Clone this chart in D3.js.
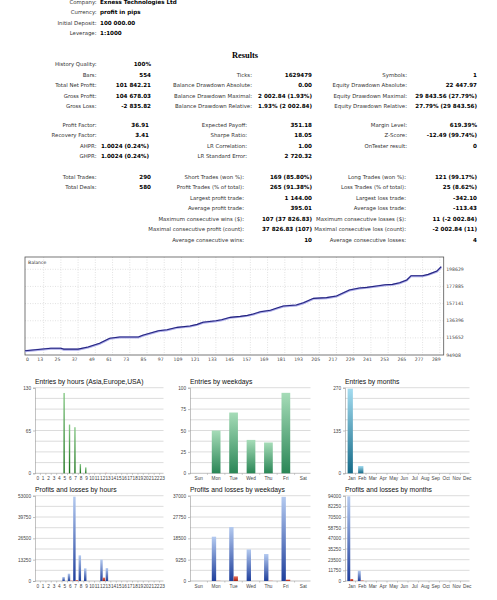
<!DOCTYPE html>
<html>
<head>
<meta charset="utf-8">
<script src="https://cdn.jsdelivr.net/npm/d3@7"></script>
<style>
  body { margin: 0; background: #fff; }
  svg { display: block; font-family: "DejaVu Sans", sans-serif; }
  .lbl { fill: #333; font-size: 5.4px; }
  .val { fill: #000; font-size: 5.6px; font-weight: bold; }
  .tick text { fill: #444; }
</style>
</head>
<body>
<svg id="report" width="497" height="600"></svg>
<script>
// ---- header / results text ----
const headerRows = [
  ['Company:', 'Exness Technologies Ltd'],
  ['Currency:', 'profit in pips'],
  ['Initial Deposit:', '100 000.00'],
  ['Leverage:', '1:1000']
];

// results, three blocks of three label/value columns
const block1 = [
  [['History Quality:', '100%'], null, null],
  [['Bars:', '554'], ['Ticks:', '1629479'], ['Symbols:', '1']],
  [['Total Net Profit:', '101 842.21'], ['Balance Drawdown Absolute:', '0.00'], ['Equity Drawdown Absolute:', '22 447.97']],
  [['Gross Profit:', '104 678.03'], ['Balance Drawdown Maximal:', '2 002.84 (1.93%)'], ['Equity Drawdown Maximal:', '29 843.56 (27.79%)']],
  [['Gross Loss:', '-2 835.82'], ['Balance Drawdown Relative:', '1.93% (2 002.84)'], ['Equity Drawdown Relative:', '27.79% (29 843.56)']]
];
const block2 = [
  [['Profit Factor:', '36.91'], ['Expected Payoff:', '351.18'], ['Margin Level:', '619.39%']],
  [['Recovery Factor:', '3.41'], ['Sharpe Ratio:', '18.05'], ['Z-Score:', '-12.49 (99.74%)']],
  [['AHPR:', '1.0024 (0.24%)'], ['LR Correlation:', '1.00'], ['OnTester result:', '0']],
  [['GHPR:', '1.0024 (0.24%)'], ['LR Standard Error:', '2 720.32'], null]
];
const block3 = [
  [['Total Trades:', '290'], ['Short Trades (won %):', '169 (85.80%)'], ['Long Trades (won %):', '121 (99.17%)']],
  [['Total Deals:', '580'], ['Profit Trades (% of total):', '265 (91.38%)'], ['Loss Trades (% of total):', '25 (8.62%)']],
  [null, ['Largest profit trade:', '1 144.00'], ['Largest loss trade:', '-342.10']],
  [null, ['Average profit trade:', '395.01'], ['Average loss trade:', '-113.43']],
  [null, ['Maximum consecutive wins ($):', '107 (37 826.83)'], ['Maximum consecutive losses ($):', '11 (-2 002.84)']],
  [null, ['Maximal consecutive profit (count):', '37 826.83 (107)'], ['Maximal consecutive loss (count):', '-2 002.84 (11)']],
  [null, ['Average consecutive wins:', '10'], ['Average consecutive losses:', '4']]
];

// ---- balance curve: [trade #, balance] ----
const balanceTrades = [0, 18, 25, 27, 37, 44, 52, 59, 66, 79, 82, 93, 99, 106, 115, 120, 124, 133, 137, 143, 150,
  155, 159, 164, 171, 175, 180, 189, 194, 201, 210, 217, 226, 233, 238, 245, 251, 256, 261, 266, 269, 277, 281, 287, 290];
const balanceValues = [100000, 103000, 103000, 102000, 102000, 104600, 109000, 115100, 116700, 116700, 118700, 124300,
  125500, 128400, 130000, 132000, 134500, 136400, 137600, 140500, 141700, 142900, 144500, 147300, 149000, 151400,
  154200, 155400, 158200, 163500, 164300, 166300, 173600, 176000, 176800, 178400, 179900, 180400, 182400, 185700,
  190900, 190900, 192500, 196500, 201842];
const balanceYTicks = [94908, 115652, 136396, 157141, 177885, 198629];
const balanceXTicks = [0, 13, 25, 37, 49, 61, 73, 85, 97, 109, 121, 133, 145, 157, 169, 181, 193, 205, 217, 229, 241, 253, 265, 277, 289];

// ---- histograms ----
const hours = d3.range(24).map(String);
const weekdays = ['Sun', 'Mon', 'Tue', 'Wed', 'Thu', 'Fri', 'Sat'];
const months = ['Jan', 'Feb', 'Mar', 'Apr', 'May', 'Jun', 'Jul', 'Aug', 'Sep', 'Oct', 'Nov', 'Dec'];

const entriesHours = [0, 0, 0, 0, 0, 122, 74, 70, 14, 9, 0, 0, 0, 0, 0, 0, 0, 0, 0, 0, 0, 0, 0, 0];
const entriesHoursOther = [0, 0, 0, 0, 0, 0, 0, 0, 0, 0, 0, 0, 0, 1, 0, 0, 0, 0, 0, 0, 0, 0, 0, 0];
const entriesWeekdays = [0, 50, 71, 39, 36, 94, 0];
const entriesMonths = [267, 23, 0, 0, 0, 0, 0, 0, 0, 0, 0, 0];

const profitHours = [0, 0, 0, 0, 0, 2500, 4560, 52400, 15940, 7870, 0, 0, 13300, 8000, 0, 0, 0, 0, 0, 0, 0, 0, 0, 0];
const lossHours = [0, 0, 0, 0, 0, 0, 236, 500, 0, 0, 0, 0, 2100, 0, 0, 0, 0, 0, 0, 0, 0, 0, 0, 0];
const profitWeekdays = [0, 19220, 23410, 13700, 11700, 36500, 0];
const lossWeekdays = [0, 100, 2020, 0, 116, 600, 0];
const profitMonths = [93300, 11378, 0, 0, 0, 0, 0, 0, 0, 0, 0, 0];
const lossMonths = [2236, 600, 0, 0, 0, 0, 0, 0, 0, 0, 0, 0];

const ticksEntriesHours = [0, 65, 130];
const ticksEntriesWeekdays = [0, 25, 50, 75, 100];
const ticksEntriesMonths = [0, 135, 270];
const ticksProfitHours = [0, 13250, 26500, 39750, 53000];
const ticksProfitWeekdays = [0, 9250, 18500, 27750, 37000];
const ticksProfitMonths = [0, 11750, 23500, 35250, 47000, 58750, 70500, 82250, 94000];

const svg = d3.select('#report');

// gradients for the bars
const defs = svg.append('defs');
function gradient(id, top, bottom) {
  const lg = defs.append('linearGradient').attr('id', id)
    .attr('x1', 0).attr('y1', 0).attr('x2', 0).attr('y2', 1);
  lg.append('stop').attr('offset', '0%').attr('stop-color', top);
  lg.append('stop').attr('offset', '100%').attr('stop-color', bottom);
}
gradient('gGreen', '#84c884', '#157015');
gradient('gSea', '#a6dcb8', '#2a8656');
gradient('gTeal', '#a4dcf0', '#146a88');
gradient('gBlue', '#b4caf0', '#1f3f9c');
gradient('gRed', '#e8705c', '#a82010');

// ---- header lines ----
const head = svg.append('g');
headerRows.forEach((r, i) => {
  const y = [4.4, 14, 24.5, 35][i];
  head.append('text').attr('class', 'lbl').attr('x', 96.5).attr('y', y).attr('text-anchor', 'end').text(r[0]);
  head.append('text').attr('class', 'val').attr('x', 100).attr('y', y).text(r[1]);
});

svg.append('text')
    .attr('x', 245).attr('y', 58)
    .attr('text-anchor', 'middle')
    .style('font-family', '"Liberation Serif", serif')
    .style('font-weight', 'bold')
    .style('font-size', '8.4px')
    .text('Results');

// draw a block of label/value pairs
function drawBlock(rows, y0, labelRight, valueRight) {
  const g = svg.append('g');
  rows.forEach((row, i) => {
    const y = y0 + i * 10.5 + 1.9;
    row.forEach((cell, c) => {
      if (!cell) return;
      g.append('text').attr('class', 'lbl')
          .attr('x', labelRight[c]).attr('y', y)
          .attr('text-anchor', 'end').text(cell[0]);
      g.append('text').attr('class', 'val')
          .attr('x', valueRight[c]).attr('y', y)
          .attr('text-anchor', 'end').text(cell[1]);
    });
  });
}
drawBlock(block1, 64.5, [96.5, 252, 407], [151, 312, 477]);
drawBlock(block2, 125, [96.5, 247, 407], [149, 312, 477]);
drawBlock(block3, 177, [96.5, 244, 406], [151, 312, 477]);

// ---- balance graph ----
const bal = { left: 25, right: 443.7, top: 257, bottom: 355 };
const bx = d3.scaleLinear().domain([0, 291.7]).range([bal.left, bal.right]);
const by = d3.scaleLinear().domain([94908, 213519]).range([bal.bottom, bal.top]);
const bg = svg.append('g');

bg.append('g')
  .selectAll('line')
  .data(balanceXTicks.slice(1))
  .join('line')
    .attr('x1', d => bx(d)).attr('x2', d => bx(d))
    .attr('y1', bal.top).attr('y2', bal.bottom)
    .attr('stroke', '#cfcfcf').attr('stroke-width', 0.6)
    .attr('stroke-dasharray', '1,1.5');

bg.append('g')
  .selectAll('line')
  .data(balanceYTicks.slice(1))
  .join('line')
    .attr('x1', bal.left).attr('x2', bal.right)
    .attr('y1', d => by(d)).attr('y2', d => by(d))
    .attr('stroke', '#cfcfcf').attr('stroke-width', 0.6)
    .attr('stroke-dasharray', '1,1.5');

bg.append('rect')
    .attr('x', bal.left).attr('y', bal.top)
    .attr('width', bal.right - bal.left).attr('height', bal.bottom - bal.top)
    .attr('fill', 'none').attr('stroke', '#555').attr('stroke-width', 0.8);

bg.append('text')
    .attr('x', bal.left + 3).attr('y', bal.top + 6.5)
    .style('font-size', '4.6px').attr('fill', '#333')
    .text('Balance');

const balancePoints = balanceTrades.map((t, i) => [t, balanceValues[i]]);
bg.append('path')
    .datum(balancePoints)
    .attr('fill', 'none')
    .attr('stroke', '#a9a9e8').attr('stroke-width', 2.2)
    .attr('d', d3.line().x(d => bx(d[0])).y(d => by(d[1]) + 0.4));
bg.append('path')
    .datum(balancePoints)
    .attr('fill', 'none')
    .attr('stroke', '#25257e').attr('stroke-width', 1.1)
    .attr('d', d3.line().x(d => bx(d[0])).y(d => by(d[1])));

bg.append('g')
  .selectAll('text')
  .data(balanceYTicks)
  .join('text')
    .attr('x', bal.right + 2.5).attr('y', d => by(d))
    .attr('dy', '0.35em')
    .style('font-size', '4.6px').attr('fill', '#444')
    .text(d => d);

bg.append('g')
  .selectAll('text')
  .data(balanceXTicks)
  .join('text')
    .attr('x', d => d === 0 ? bx(d) + 1 : bx(d) - 3.5)
    .attr('y', 361)
    .attr('text-anchor', d => d === 0 ? 'start' : 'middle')
    .style('font-size', '4.6px').attr('fill', '#444')
    .text(d => d);

// ---- bar histograms ----
function histogram(spec) {
  const g = svg.append('g');
  const x = d3.scaleBand().domain(spec.cats).range([spec.left, spec.right]);
  const y = d3.scaleLinear().domain([0, spec.max]).range([spec.bottom, spec.top]);

  g.append('text')
      .attr('x', spec.left).attr('y', spec.top - 4)
      .style('font-family', '"Liberation Sans", sans-serif')
      .style('font-size', '6.8px').attr('fill', '#111')
      .text(spec.title);

  // 8 horizontal gridlines
  g.append('g')
    .selectAll('line')
    .data(d3.range(1, 9).map(i => spec.max * i / 8))
    .join('line')
      .attr('x1', spec.left).attr('x2', spec.right - 1.5)
      .attr('y1', d => y(d)).attr('y2', d => y(d))
      .attr('stroke', '#c4c4c4').attr('stroke-width', 0.6);

  const yAxis = g.append('g')
      .attr('transform', `translate(${spec.left},0)`)
      .call(d3.axisLeft(y).tickValues(spec.ticks).tickSize(2).tickPadding(2).tickFormat(d3.format('d')));
  yAxis.select('.domain').attr('stroke', '#999').attr('stroke-width', 0.6);
  yAxis.selectAll('.tick line').attr('stroke', '#999').attr('stroke-width', 0.6);
  yAxis.selectAll('text').style('font-size', '4.7px').style('font-family', '"Liberation Sans", sans-serif');

  // bottom axis line with ticks at band edges
  g.append('line')
      .attr('x1', spec.left).attr('x2', spec.right - 1.5)
      .attr('y1', spec.bottom).attr('y2', spec.bottom)
      .attr('stroke', '#999').attr('stroke-width', 0.6);
  g.append('g')
    .selectAll('line')
    .data(spec.cats.slice(1))
    .join('line')
      .attr('x1', d => x(d)).attr('x2', d => x(d))
      .attr('y1', spec.bottom).attr('y2', spec.bottom + 1.6)
      .attr('stroke', '#999').attr('stroke-width', 0.5);

  g.append('g')
    .selectAll('text')
    .data(spec.cats)
    .join('text')
      .attr('x', d => x(d) + x.bandwidth() / 2 + (spec.labelDx || 0))
      .attr('y', spec.bottom + 7)
      .attr('text-anchor', 'middle')
      .style('font-family', '"Liberation Sans", sans-serif')
      .style('font-size', '4.7px').attr('fill', '#444')
      .text(d => d);

  // bars, series side by side inside each band
  const groupW = x.bandwidth() * spec.barFrac;
  const barW = groupW / spec.series.length;
  spec.series.forEach((s, k) => {
    g.append('g')
      .selectAll('rect')
      .data(spec.cats.map((c, i) => ({ c, v: s.values[i] })).filter(d => d.v > 0))
      .join('rect')
        .attr('x', d => x(d.c) + (x.bandwidth() - groupW) / 2 + k * barW + (s.dx || 0))
        .attr('y', d => y(d.v))
        .attr('width', barW)
        .attr('height', d => spec.bottom - y(d.v))
        .attr('fill', s.fill);
  });
}

const row1 = { top: 387.7, bottom: 473.3 };
const row2 = { top: 495.7, bottom: 581 };

histogram({ title: 'Entries by hours (Asia,Europe,USA)', cats: hours, left: 35, right: 165, ...row1,
  max: 130, ticks: ticksEntriesHours, barFrac: 0.5,
  series: [{ values: entriesHours, fill: 'url(#gGreen)' }, { values: entriesHoursOther, fill: '#e6a0a0', dx: -2.7 }] });
histogram({ title: 'Entries by weekdays', cats: weekdays, left: 190, right: 312, ...row1,
  max: 100, ticks: ticksEntriesWeekdays, barFrac: 0.5,
  series: [{ values: entriesWeekdays, fill: 'url(#gSea)' }] });
histogram({ title: 'Entries by months', cats: months, left: 345, right: 471, ...row1,
  max: 270, ticks: ticksEntriesMonths, barFrac: 0.5, labelDx: 1.5,
  series: [{ values: entriesMonths, fill: 'url(#gTeal)' }] });

histogram({ title: 'Profits and losses by hours', cats: hours, left: 35, right: 165, ...row2,
  max: 53000, ticks: ticksProfitHours, barFrac: 0.9,
  series: [{ values: profitHours, fill: 'url(#gBlue)' }, { values: lossHours, fill: 'url(#gRed)' }] });
histogram({ title: 'Profits and losses by weekdays', cats: weekdays, left: 190, right: 312, ...row2,
  max: 37000, ticks: ticksProfitWeekdays, barFrac: 0.5,
  series: [{ values: profitWeekdays, fill: 'url(#gBlue)' }, { values: lossWeekdays, fill: 'url(#gRed)' }] });
histogram({ title: 'Profits and losses by months', cats: months, left: 345, right: 471, ...row2,
  max: 94000, ticks: ticksProfitMonths, barFrac: 0.56, labelDx: 1.5,
  series: [{ values: profitMonths, fill: 'url(#gBlue)' }, { values: lossMonths, fill: 'url(#gRed)' }] });
</script>
</body>
</html>
